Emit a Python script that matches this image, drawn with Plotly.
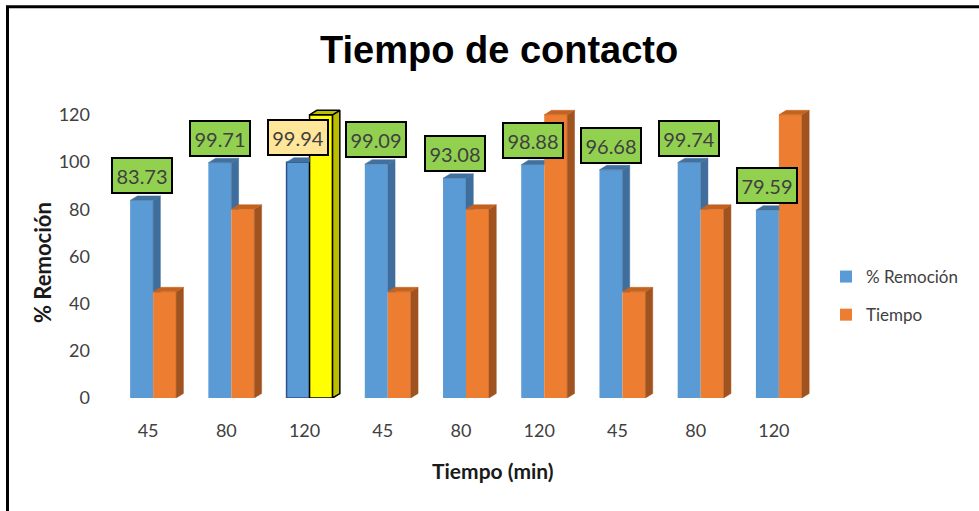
import plotly.graph_objects as go

# ---------------- data ----------------
categories = ["45", "80", "120", "45", "80", "120", "45", "80", "120"]
remocion = [83.73, 99.71, 99.94, 99.09, 93.08, 98.88, 96.68, 99.74, 79.59]
tiempo = [45, 80, 120, 45, 80, 120, 45, 80, 120]
y_ticks = [0, 20, 40, 60, 80, 100, 120]
highlight_index = 2

# ---------------- layout geometry (pixels) ----------------
W, H = 979, 511
L, R, T, B = 109, 813, 105, 398
PW, PH = R - L, B - T
PX_PER_UNIT = 2.36
YMAX = PH / PX_PER_UNIT

BAR_W = 0.294
BLUE_OFF = -0.23
ORANGE_OFF = BLUE_OFF + BAR_W
DX = 0.093   # 3D depth, category units
DY = 1.9     # 3D depth, value units

BLUE = "#5B9BD5"
BLUE_DARK = "#3F6E9C"
BLUE_TOP = "#41719C"
ORANGE = "#ED7D31"
ORANGE_SIDE = "#A0521F"
ORANGE_TOP = "#C4621F"
YELLOW = "#FFFF00"
OLIVE = "#BDBD00"
TEXT = "#404040"


def px_x(px):
    return (px - L) / PW


def px_y(py):
    return (B - py) / PH


x = list(range(len(categories)))


def add_poly(xs, ys, pts):
    for px_, py_ in pts:
        xs.append(px_)
        ys.append(py_)
    xs.append(pts[0][0])
    ys.append(pts[0][1])
    xs.append(None)
    ys.append(None)


def face_trace(xs, ys, color, line_color=None, lw=0):
    return go.Scatter(
        x=xs, y=ys, mode="lines", fill="toself", fillcolor=color,
        line=dict(color=line_color or color, width=lw if lw else 0.5),
        hoverinfo="skip", showlegend=False,
    )


fig = go.Figure()

# front faces (real bars)
blue_line_c = ["rgba(0,0,0,0)"] * len(x)
blue_line_w = [0] * len(x)
blue_line_c[highlight_index] = "#2F528F"
blue_line_w[highlight_index] = 1.5
org_colors = [ORANGE] * len(x)
org_colors[highlight_index] = YELLOW
org_line_c = ["rgba(0,0,0,0)"] * len(x)
org_line_w = [0] * len(x)
org_line_c[highlight_index] = "#000000"
org_line_w[highlight_index] = 1.5

fig.add_trace(go.Bar(
    x=x, y=remocion, name="% Remoción", width=BAR_W, offset=BLUE_OFF,
    marker=dict(color=[BLUE] * len(x), line=dict(color=blue_line_c, width=blue_line_w)),
    legendgroup="a",
))
fig.add_trace(go.Bar(
    x=x, y=tiempo, name="Tiempo", width=BAR_W, offset=ORANGE_OFF,
    marker=dict(color=org_colors, line=dict(color=org_line_c, width=org_line_w)),
    legendgroup="b",
))

# 3D side / top faces computed from the data
bs_x, bs_y, bt_x, bt_y = [], [], [], []
os_x, os_y, ot_x, ot_y = [], [], [], []
hs_x, hs_y, ht_x, ht_y = [], [], [], []
for i, (vb, vo) in enumerate(zip(remocion, tiempo)):
    xl_b = i + BLUE_OFF
    xr_b = xl_b + BAR_W
    xl_o = i + ORANGE_OFF
    xr_o = xl_o + BAR_W
    if vb > vo:
        add_poly(bs_x, bs_y, [(xr_b, vo), (xr_b + DX, max(vo, DY)), (xr_b + DX, vb + DY), (xr_b, vb)])
        add_poly(bt_x, bt_y, [(xl_b, vb), (xr_b, vb), (xr_b + DX, vb + DY), (xl_b + DX, vb + DY)])
    else:
        add_poly(bt_x, bt_y, [(xl_b, vb), (xr_b, vb), (xr_b, vb + DY), (xl_b + DX, vb + DY)])
    side = [(xr_o, 0), (xr_o + DX, DY), (xr_o + DX, vo + DY), (xr_o, vo)]
    top = [(xl_o, vo), (xr_o, vo), (xr_o + DX, vo + DY), (xl_o + DX, vo + DY)]
    if i == highlight_index:
        add_poly(hs_x, hs_y, side)
        add_poly(ht_x, ht_y, top)
    else:
        add_poly(os_x, os_y, side)
        add_poly(ot_x, ot_y, top)

fig.add_trace(face_trace(bs_x, bs_y, BLUE_DARK))
fig.add_trace(face_trace(bt_x, bt_y, BLUE_TOP))
fig.add_trace(face_trace(os_x, os_y, ORANGE_SIDE))
fig.add_trace(face_trace(ot_x, ot_y, ORANGE_TOP))
fig.add_trace(face_trace(hs_x, hs_y, OLIVE, "#000000", 1.5))
fig.add_trace(face_trace(ht_x, ht_y, OLIVE, "#000000", 1.5))

annotations = []
for i, v in enumerate(remocion):
    annotations.append(dict(
        x=i + BLUE_OFF + BAR_W / 2, y=v, xref="x", yref="y",
        text=f"{v:.2f}", showarrow=False, yanchor="bottom", yshift=6,
        bgcolor="#FFE699" if i == highlight_index else "#92D050",
        bordercolor="#000000", borderwidth=2, borderpad=2,
        width=54, height=29,
        font=dict(family="Lato", size=20, color=TEXT),
    ))

annotations.append(dict(
    x=px_x(499), y=px_y(50), xref="paper", yref="paper",
    text="<b>Tiempo de contacto</b>", showarrow=False,
    xanchor="center", yanchor="middle",
    font=dict(family="Liberation Sans", size=38, color="#000000"),
))
annotations.append(dict(
    x=px_x(42), y=px_y(263), xref="paper", yref="paper",
    text="<b>% Remoción</b>", showarrow=False, textangle=-90,
    xanchor="center", yanchor="middle",
    font=dict(family="Lato", size=22, color="#1a1a1a"),
))
annotations.append(dict(
    x=px_x(493), y=px_y(470), xref="paper", yref="paper",
    text="<b>Tiempo (min)</b>", showarrow=False,
    xanchor="center", yanchor="middle",
    font=dict(family="Lato", size=21, color="#1a1a1a"),
))

fig.update_layout(
    width=W, height=H,
    margin=dict(l=L, r=W - R, t=T, b=H - B, pad=0),
    paper_bgcolor="white", plot_bgcolor="white",
    barmode="overlay",
    showlegend=True,
    legend=dict(
        x=px_x(826), y=px_y(259), xanchor="left", yanchor="top",
        font=dict(family="Lato", size=17, color=TEXT),
        bgcolor="rgba(0,0,0,0)", tracegroupgap=13,
    ),
    annotations=annotations,
    shapes=[dict(
        type="rect", xref="paper", yref="paper",
        x0=px_x(7.5), y0=px_y(6.8), x1=px_x(1010), y1=px_y(540),
        line=dict(color="#000000", width=3), fillcolor="rgba(0,0,0,0)",
        layer="below",
    )],
    xaxis=dict(
        range=[-0.5, len(x) - 0.5], tickvals=x, ticktext=categories,
        showgrid=False, zeroline=False, showline=False, ticks="",
        tickfont=dict(family="Lato", size=18, color=TEXT),
        ticklabelstandoff=20, fixedrange=True,
    ),
    yaxis=dict(
        range=[0, YMAX], tickvals=y_ticks,
        showgrid=False, zeroline=False, showline=False, ticks="",
        tickfont=dict(family="Lato", size=18, color=TEXT),
        ticklabelstandoff=18, fixedrange=True,
    ),
)

fig.write_html(
    "out.html",
    config={"displayModeBar": False},
    post_script="document.body.style.margin='0px';document.body.style.overflow='hidden';",
)
